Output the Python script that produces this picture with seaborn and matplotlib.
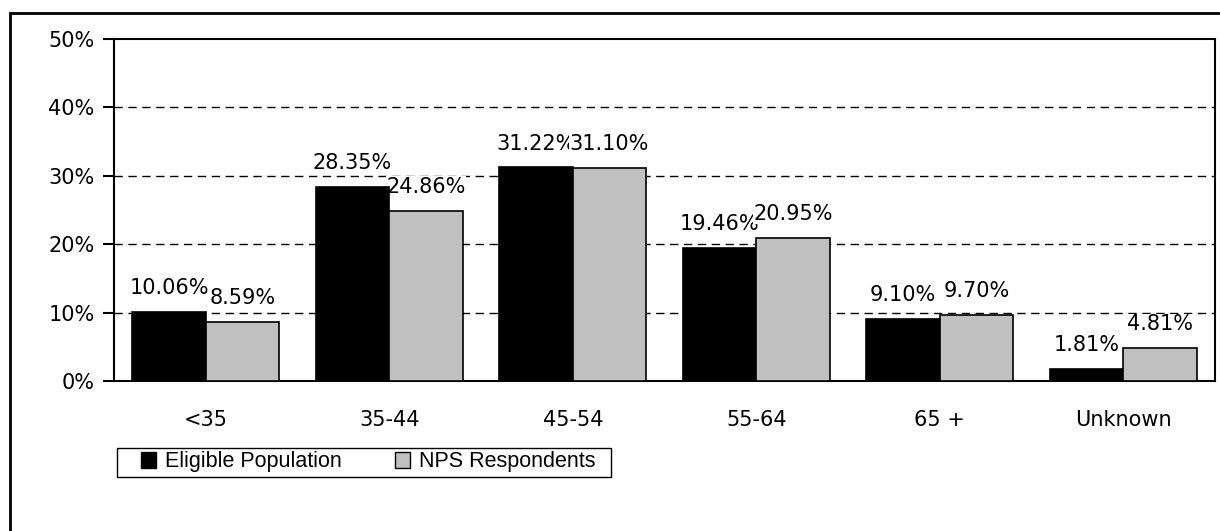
import pandas as pd
import matplotlib.pyplot as plt
import matplotlib.patches as mpatches
import seaborn as sns

# chart data
age_groups = ["<35", "35-44", "45-54", "55-64", "65 +", "Unknown"]
eligible_population = [10.06, 28.35, 31.22, 19.46, 9.10, 1.81]
nps_respondents = [8.59, 24.86, 31.10, 20.95, 9.70, 4.81]
series_names = ["Eligible Population", "NPS Respondents"]
y_ticks = [0, 10, 20, 30, 40, 50]

df = pd.DataFrame({
    "Age": age_groups * 2,
    "Percent": eligible_population + nps_respondents,
    "Series": [series_names[0]] * len(age_groups) + [series_names[1]] * len(age_groups),
})

sns.set_style("white")
plt.rcParams["font.family"] = ["DejaVu Sans"]
plt.rcParams["text.color"] = "black"
plt.rcParams["xtick.color"] = "black"
plt.rcParams["ytick.color"] = "black"

fig = plt.figure(figsize=(12.2, 5.31), dpi=100)
ax = fig.add_axes([114 / 1220, 150 / 531, (1215 - 114) / 1220, (381 - 39) / 531])

sns.barplot(
    data=df, x="Age", y="Percent", hue="Series",
    palette=["black", "#C0C0C0"], edgecolor="black", linewidth=1.2,
    width=0.8, ax=ax, legend=False, zorder=3,
)

# labels sit above the gridlines but below the bars
for container in ax.containers:
    labels = ax.bar_label(container, fmt="%.2f%%", padding=10, fontsize=15,
                          zorder=2, color="black")
    for t in labels:
        t.set_bbox(dict(facecolor="white", edgecolor="none", pad=0.5))

ax.set_ylim(0, 50)
ax.set_xlim(-0.5, len(age_groups) - 0.5)
ax.set_yticks(y_ticks)
ax.set_yticklabels([f"{v}%" for v in y_ticks], fontsize=15)
ax.set_xticks(range(len(age_groups)))
ax.set_xticklabels(age_groups, fontsize=15)
ax.set_xticks([i - 0.5 for i in range(len(age_groups) + 1)], minor=True)
ax.tick_params(axis="x", which="major", length=0, pad=21, labelcolor="black")
ax.tick_params(axis="x", which="minor", length=8, width=1.5, direction="out", color="black")
ax.tick_params(axis="y", length=8, width=1.5, direction="out", color="black",
               left=True, pad=6, labelcolor="black")
ax.set_xlabel("")
ax.set_ylabel("")

for v in y_ticks[1:-1]:
    ax.axhline(v, color="black", lw=1, linestyle=(0, (6, 4)), zorder=1)

for s in ax.spines.values():
    s.set_visible(True)
    s.set_color("black")
    s.set_linewidth(1.5)

# legend (frameless, box drawn separately)
handles = [
    mpatches.Patch(facecolor="black", edgecolor="black", label=series_names[0]),
    mpatches.Patch(facecolor="#C0C0C0", edgecolor="black", label=series_names[1]),
]
leg = fig.legend(
    handles=handles, ncol=2, loc="center left",
    bbox_to_anchor=(141 / 1220, 1 - 462 / 531), borderaxespad=0,
    prop={"family": "Liberation Sans", "size": 15.5},
    frameon=False, handlelength=0.7, handleheight=0.7,
    handletextpad=0.4, columnspacing=2.5, borderpad=0,
)
for t in leg.get_texts():
    t.set_color("black")
fig.patches.append(mpatches.Rectangle(
    (117 / 1220, 1 - 477 / 531), (611 - 117) / 1220, 29 / 531,
    transform=fig.transFigure, fill=False, edgecolor="black", linewidth=1,
))

# outer chart border
fig.patches.append(mpatches.Rectangle(
    (10 / 1220, -0.1), 1.2, 1 - 13 / 531 + 0.1,
    transform=fig.transFigure, fill=False, edgecolor="black", linewidth=2,
))

fig.savefig("out.png", dpi=100)
